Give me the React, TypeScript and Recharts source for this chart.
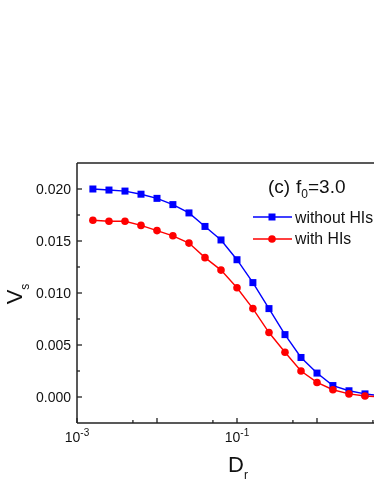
import { LineChart, Line, XAxis, YAxis, ReferenceLine } from "recharts";

// rotational diffusion coefficient D_r (log scale)
const dr = [
  0.00158, 0.00251, 0.00398, 0.00631, 0.01, 0.0158, 0.0251, 0.0398, 0.0631,
  0.1, 0.158, 0.251, 0.398, 0.631, 1, 1.58, 2.51, 3.98, 6.31,
];
const withoutHIs = [
  0.02, 0.0199, 0.0198, 0.0195, 0.0191, 0.0185, 0.0177, 0.0164, 0.0151,
  0.0132, 0.011, 0.0085, 0.006, 0.0038, 0.0023, 0.0011, 0.0006, 0.0003, 0.0001,
];
const withHIs = [
  0.017, 0.0169, 0.0169, 0.0165, 0.016, 0.0155, 0.0148, 0.0134, 0.0122,
  0.0105, 0.0085, 0.0062, 0.0043, 0.0025, 0.0014, 0.0007, 0.0003, 0.0001, 0,
];
const seriesNames = ["without HIs", "with HIs"];

const xMajor = [0.001, 0.01, 0.1, 1, 10];
const xMinor = [0.005, 0.05, 0.5, 5];
const xLabelExp: Record<string, string> = { "0.001": "-3", "0.1": "-1" };
const yMajor = [0, 0.005, 0.01, 0.015, 0.02];
const yMinor = [0.0025, 0.0075, 0.0125, 0.0175];

const data = dr.map((x, i) => ({ dr: x, without: withoutHIs[i], with: withHIs[i] }));

const FONT = "'Liberation Sans', Arial, sans-serif";
const AXIS = "#222";
const BLUE = "#0000ff";
const RED = "#ff0000";

const XTick = (p: any) => {
  const v = p.payload.value;
  const major = xMajor.includes(v);
  const exp = xLabelExp[String(v)];
  return (
    <g>
      <line x1={p.x} y1={p.y} x2={p.x} y2={p.y - (major ? 5 : 3)} stroke={AXIS} strokeWidth={1.3} />
      {exp && (
        <text x={p.x} y={p.y + 19} textAnchor="middle" fontFamily={FONT} fontSize={14} fill="#111">
          10
          <tspan dy={-6} fontSize={10}>{exp}</tspan>
        </text>
      )}
    </g>
  );
};

const YTick = (p: any) => {
  const v = p.payload.value;
  const major = yMajor.includes(v);
  return (
    <g>
      <line x1={p.x} y1={p.y} x2={p.x + (major ? 5 : 3)} y2={p.y} stroke={AXIS} strokeWidth={1.3} />
      {major && (
        <text x={p.x - 6} y={p.y + 5} textAnchor="end" fontFamily={FONT} fontSize={14} fill="#111">
          {v.toFixed(3)}
        </text>
      )}
    </g>
  );
};

const Square = (p: any) =>
  p.cx == null ? null : (
    <rect key={p.key} x={p.cx - 3.5} y={p.cy - 3.5} width={7} height={7} fill={BLUE} />
  );

const Circle = (p: any) =>
  p.cx == null ? null : <circle key={p.key} cx={p.cx} cy={p.cy} r={3.8} fill={RED} />;

const XLabel = (p: any) => {
  const vb = p.viewBox;
  return (
    <text x={vb.x + vb.width / 2 + 1} y={vb.y + 49} textAnchor="middle" fontFamily={FONT} fontSize={22} fill="#111">
      D
      <tspan dy={7} fontSize={12}>r</tspan>
    </text>
  );
};

const YLabel = (p: any) => {
  const vb = p.viewBox;
  const cx = vb.x + 14;
  const cy = vb.y + vb.height / 2 + 1;
  return (
    <text x={cx} y={cy} textAnchor="middle" fontFamily={FONT} fontSize={22} fill="#111" transform={`rotate(-90 ${cx} ${cy})`}>
      V
      <tspan dy={7} fontSize={12}>s</tspan>
    </text>
  );
};

export default function App() {
  return (
    <div style={{ position: "fixed", left: 0, top: 0, width: 374, height: 484, overflow: "hidden" }}>
      <LineChart width={408} height={484} data={data} margin={{ top: 163, right: 11, left: 8, bottom: 6 }}>
        <XAxis
          dataKey="dr"
          type="number"
          scale="log"
          domain={[0.001, 10]}
          allowDataOverflow
          ticks={[...xMajor, ...xMinor]}
          interval={0}
          tickSize={0}
          tickMargin={0}
          tickLine={false}
          tick={(p: any) => <XTick {...p} />}
          height={55}
          stroke={AXIS}
          strokeWidth={1.5}
          label={<XLabel />}
        />
        <YAxis
          type="number"
          domain={[-0.0025, 0.0225]}
          allowDataOverflow
          ticks={[...yMajor, ...yMinor]}
          interval={0}
          tickSize={0}
          tickMargin={0}
          tickLine={false}
          tick={(p: any) => <YTick {...p} />}
          width={69}
          stroke={AXIS}
          strokeWidth={1.5}
          label={<YLabel />}
        />
        <ReferenceLine y={0.0225} stroke={AXIS} strokeWidth={1.5} />
        <ReferenceLine x={10} stroke={AXIS} strokeWidth={1.5} />
        <Line
          dataKey="without"
          name={seriesNames[0]}
          stroke={BLUE}
          strokeWidth={1.4}
          dot={Square}
          activeDot={false}
          isAnimationActive={false}
        />
        <Line
          dataKey="with"
          name={seriesNames[1]}
          stroke={RED}
          strokeWidth={1.4}
          dot={Circle}
          activeDot={false}
          isAnimationActive={false}
        />
      </LineChart>
      <svg
        width={126}
        height={90}
        style={{ position: "absolute", left: 248, top: 170 }}
        fontFamily={FONT}
      >
        <text x={20} y={23} fontSize={19} fill="#111">(c)</text>
        <text x={48} y={23} fontSize={19} fill="#111">
          f<tspan dy={5} fontSize={12}>0</tspan>
          <tspan dy={-5}>=3.0</tspan>
        </text>
        <line x1={5} y1={47} x2={44} y2={47} stroke={BLUE} strokeWidth={1.4} />
        <rect x={20.5} y={43.5} width={7} height={7} fill={BLUE} />
        <text x={47} y={53} fontSize={15.8} fill="#111">{seriesNames[0]}</text>
        <line x1={5} y1={69} x2={44} y2={69} stroke={RED} strokeWidth={1.4} />
        <circle cx={24} cy={69} r={3.8} fill={RED} />
        <text x={47} y={74} fontSize={15.8} fill="#111">{seriesNames[1]}</text>
      </svg>
    </div>
  );
}
